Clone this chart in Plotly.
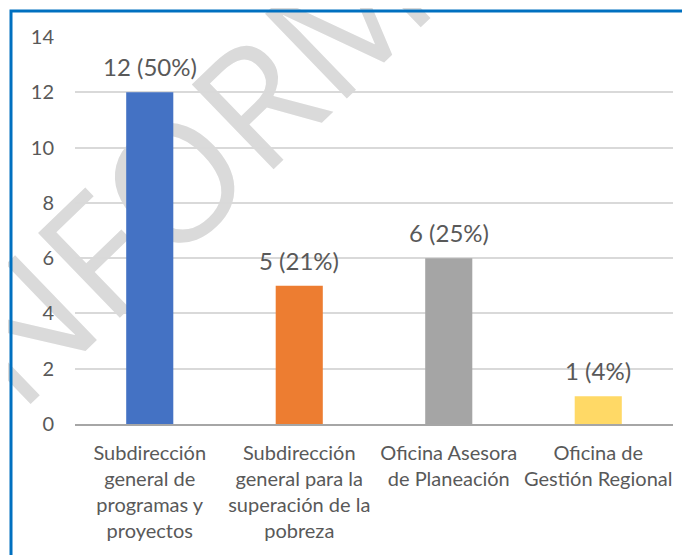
import plotly.graph_objects as go

categories = [
    "Subdirección<br>general de<br>programas y<br>proyectos",
    "Subdirección<br>general para la<br>superación de la<br>pobreza",
    "Oficina Asesora<br>de Planeación",
    "Oficina de<br>Gestión Regional",
]
values = [12, 5, 6, 1]
percents = [50, 21, 25, 4]
colors = ["#4472C4", "#ED7D31", "#A5A5A5", "#FFD966"]
y_ticks = [0, 2, 4, 6, 8, 10, 12, 14]

# page has an 8px body margin; figure coords = viewport coords - 8
W, H = 690, 555
L, R, T, B = 67, 25, 29, 139
pw, ph = W - L - R, H - T - B

def px_x(p):
    return (p - L) / pw

def px_y(p):
    return (H - B - p) / ph

FONT = "Lato"
TXT = "#595959"

fig = go.Figure()
fig.add_trace(go.Bar(
    x=categories, y=values,
    marker=dict(color=colors, line=dict(width=0)),
    width=0.315,
    hoverinfo="skip",
))

for c, v, p in zip(categories, values, percents):
    fig.add_annotation(
        x=c, y=v, text=f"{v} ({p}%)", showarrow=False,
        yanchor="bottom", yshift=9,
        font=dict(family=FONT, size=24, color=TXT),
    )

# watermark
cx, cy = 202, 149
fig.add_shape(
    type="rect", xref="paper", yref="paper",
    x0=px_x(cx - 5), x1=px_x(cx + 5), y0=px_y(cy + 5), y1=px_y(cy - 5),
    line=dict(width=0), fillcolor="rgba(0,0,0,0)", layer="below",
    label=dict(text="INFORME", textangle=-44, textposition="middle center",
               font=dict(family="Liberation Sans Narrow, Open Sans", size=165,
                         color="#DADADA")),
)

# outer border (partly cut off)
fig.add_shape(
    type="rect", xref="paper", yref="paper",
    x0=px_x(3), x1=px_x(W + 20), y0=px_y(H + 20), y1=px_y(3),
    line=dict(color="#0070C0", width=3), fillcolor="rgba(0,0,0,0)", layer="above",
)

fig.update_layout(
    width=W, height=H,
    margin=dict(l=L, r=R, t=T, b=B, pad=0),
    paper_bgcolor="white", plot_bgcolor="white",
    showlegend=False,
    bargap=0.685,
    font=dict(family=FONT, size=20, color=TXT),
)
fig.update_yaxes(
    range=[0, 14], tickvals=y_ticks, ticktext=[str(t) for t in y_ticks],
    showgrid=True, gridcolor="#D9D9D9", gridwidth=1.5,
    zeroline=False, showline=False, ticks="", ticklabelstandoff=20,
    tickfont=dict(family=FONT, size=20, color=TXT),
)
fig.update_xaxes(
    showgrid=False, showline=True, linecolor="#A6A6A6", linewidth=2,
    ticks="", tickfont=dict(family=FONT, size=20, color=TXT),
    ticklabelstandoff=10,
)

fig.write_html("out.html")
